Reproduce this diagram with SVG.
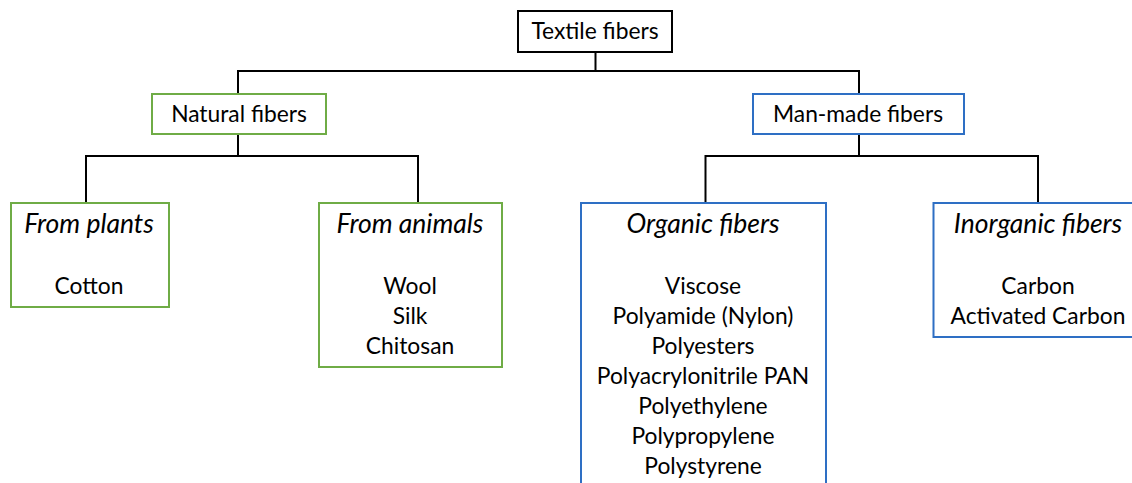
<svg xmlns="http://www.w3.org/2000/svg" width="1132" height="483" viewBox="0 0 1132 483">
<style>
.box{fill:#fff;stroke-width:2}
.blk{stroke:#000}
.grn{stroke:#6fac46}
.blu{stroke:#2e6fc4}
text{font-family:Lato,"Open Sans","Liberation Sans",sans-serif;font-size:22.8px;fill:#000;text-anchor:middle}
.it{font-style:italic;font-size:26.5px}
#connectors path{fill:none;stroke:#000;stroke-width:2}
</style>
<rect width="1132" height="483" fill="#fff"/>
<g id="connectors">
<path d="M595.5 52V71M238 94V71H859V94"/>
<path d="M238 134V156M86 203V156H418V203"/>
<path d="M859 134V156M705.5 203V156H1038V203"/>
</g>
<g id="textile"><rect class="box blk" x="518" y="11" width="154" height="41"/><text x="595" y="39">Textile fibers</text></g>
<g id="natural"><rect class="box grn" x="152" y="94" width="174" height="40"/><text x="239" y="122">Natural fibers</text></g>
<g id="manmade"><rect class="box blu" x="753" y="94" width="211" height="40"/><text x="858" y="122">Man-made fibers</text></g>
<g id="plants"><rect class="box grn" x="11" y="203" width="158" height="104"/><text class="it" x="89" y="233">From plants</text><text x="89" y="294">Cotton</text></g>
<g id="animals"><rect class="box grn" x="319" y="203" width="183" height="164"/><text class="it" x="410" y="233">From animals</text><text x="410" y="294">Wool</text><text x="410" y="324">Silk</text><text x="410" y="354">Chitosan</text></g>
<g id="organic"><rect class="box blu" x="581" y="203" width="245" height="300"/><text class="it" x="703" y="233">Organic fibers</text><text x="703" y="294">Viscose</text><text x="703" y="324">Polyamide (Nylon)</text><text x="703" y="354">Polyesters</text><text x="703" y="384">Polyacrylonitrile PAN</text><text x="703" y="414">Polyethylene</text><text x="703" y="444">Polypropylene</text><text x="703" y="474">Polystyrene</text></g>
<g id="inorganic"><rect class="box blu" x="933.5" y="203" width="220" height="134"/><text class="it" x="1038" y="233">Inorganic fibers</text><text x="1038" y="294">Carbon</text><text x="1038" y="324">Activated Carbon</text></g>
</svg>
